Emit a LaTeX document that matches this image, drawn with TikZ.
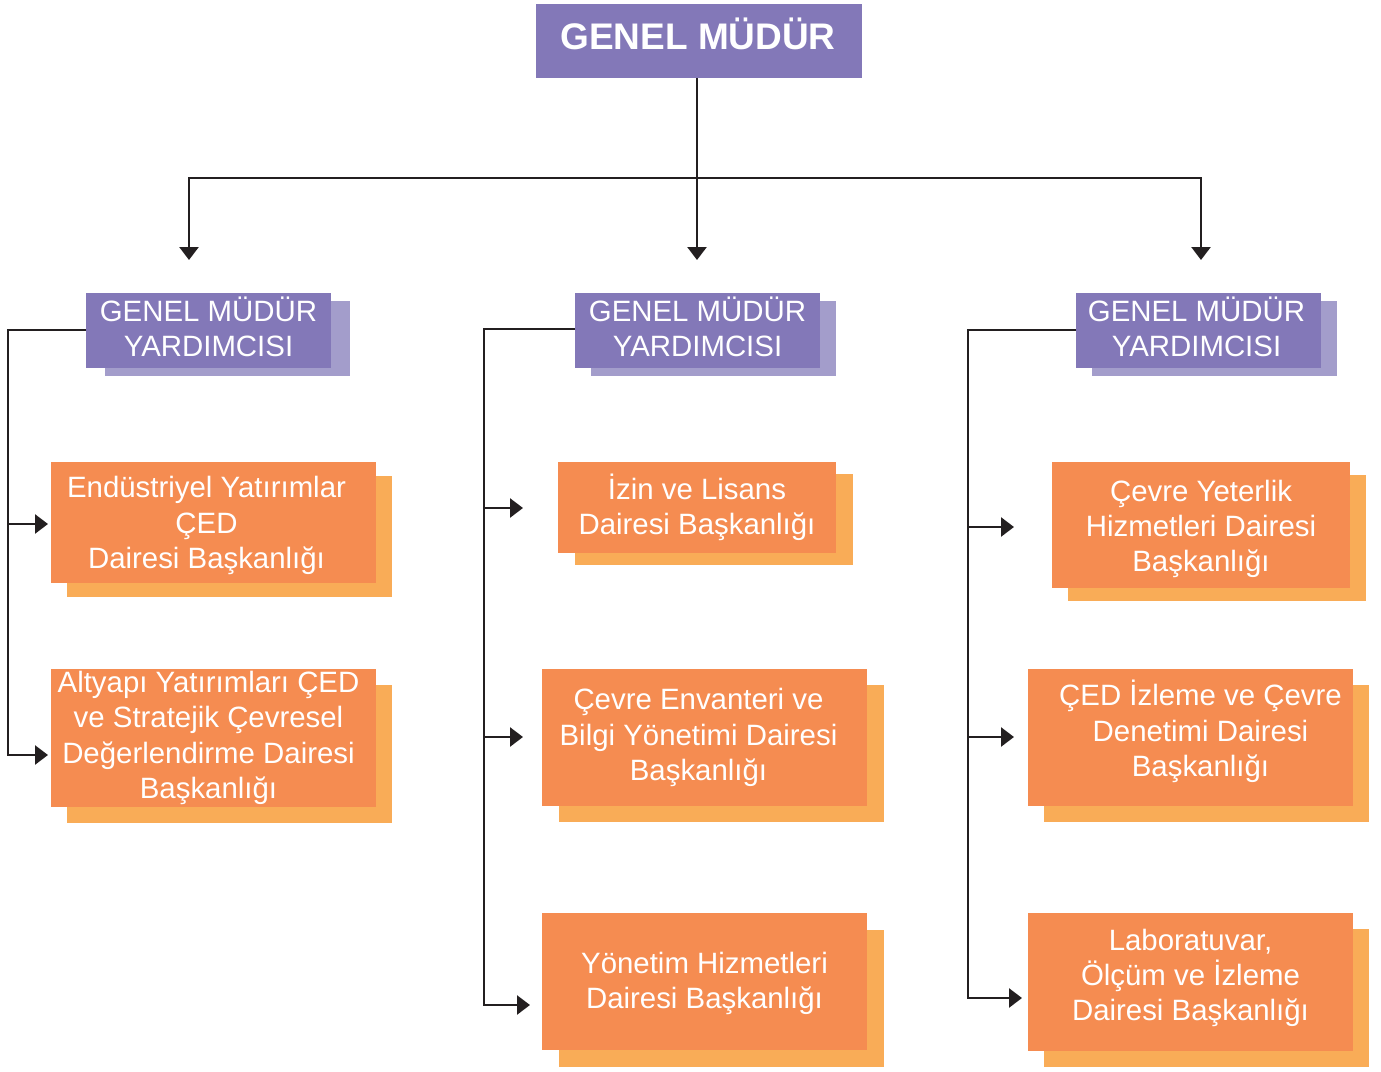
\documentclass[tikz,border=0pt]{standalone}
\usepackage{fontspec}
\setmainfont{Liberation Sans}
\usetikzlibrary{arrows.meta}
\definecolor{purp}{HTML}{8378B8}
\definecolor{purps}{HTML}{A39DCB}
\definecolor{orng}{HTML}{F58C51}
\definecolor{orngs}{HTML}{F9AC57}
\definecolor{lnc}{HTML}{231F20}
\tikzset{
  plainbox/.style={rectangle, inner sep=0pt, outer sep=0pt},
  purpbox/.style={plainbox, fill=purp},
  purpboxs/.style={plainbox, fill=purps},
  orngbox/.style={plainbox, fill=orng},
  orngboxs/.style={plainbox, fill=orngs},
  boxtext/.style={inner sep=0pt, text=white, align=center,
    font=\fontsize{29.4}{35.3}\selectfont},
  ln/.style={draw=lnc, line width=2.6pt, line join=miter},
  arr/.style={ln, -{Triangle[length=13pt,width=19pt]}},
}
% #1 name, #2 style, #3 x1, #4 y1, #5 x2, #6 y2, #7 shadow shift, #8 text shift, #9 text
\newcommand\mkbox[9]{%
  \node[#2s, minimum width={(#5-#3)*1pt}, minimum height={(#6-#4)*1pt}, #7]
    (#1s) at ({(#3+#5)/2},{(#4+#6)/2}) {};
  \node[#2, minimum width={(#5-#3)*1pt}, minimum height={(#6-#4)*1pt}]
    (#1) at ({(#3+#5)/2},{(#4+#6)/2}) {};
  \node[boxtext, #8] (#1t) at (#1.center) {#9};
}
\begin{document}
\begin{tikzpicture}[x=1pt,y=-1pt]
\useasboundingbox (0,0) rectangle (1381,1071);
% top
\node[plainbox, fill=purp, minimum width=326pt, minimum height=74pt] (gm) at (699,41) {};
\node[boxtext, font=\fontsize{37}{40}\selectfont\bfseries, shift={(-1,-7)}] (gmt) at (gm.center) {GENEL MÜDÜR};
% deputies
\mkbox{vpL}{purpbox}{86}{293}{331}{368}{shift={(19,8)}}{shift={(0,-3.5)}}{GENEL MÜDÜR\\YARDIMCISI}
\mkbox{vpM}{purpbox}{575}{293}{820}{368}{shift={(16,8)}}{shift={(0,-3.5)}}{GENEL MÜDÜR\\YARDIMCISI}
\mkbox{vpR}{purpbox}{1076}{293}{1321}{368}{shift={(16,8)}}{shift={(-2,-3.5)}}{GENEL MÜDÜR\\YARDIMCISI}
% left column
\mkbox{l1}{orngbox}{51}{462}{376}{583}{shift={(16,14)}}{shift={(-7,3)}}{Endüstriyel Yatırımlar\\ÇED\\Dairesi Başkanlığı}
\mkbox{l2}{orngbox}{51}{669}{376}{807}{shift={(16,16)}}{shift={(-5,0)}}{Altyapı Yatırımları ÇED\\ve Stratejik Çevresel\\Değerlendirme Dairesi\\Başkanlığı}
% middle column
\mkbox{m1}{orngbox}{558}{462}{836}{553}{shift={(17,12)}}{shift={(0,0)}}{İzin ve Lisans\\Dairesi Başkanlığı}
\mkbox{m2}{orngbox}{542}{669}{867}{806}{shift={(17,16)}}{shift={(-6,0)}}{Çevre Envanteri ve\\Bilgi Yönetimi Dairesi\\Başkanlığı}
\mkbox{m3}{orngbox}{542}{913}{867}{1050}{shift={(17,17)}}{shift={(0,2)}}{Yönetim Hizmetleri\\Dairesi Başkanlığı}
% right column
\mkbox{r1}{orngbox}{1052}{462}{1350}{588}{shift={(16,13)}}{shift={(0,4)}}{Çevre Yeterlik\\Hizmetleri Dairesi\\Başkanlığı}
\mkbox{r2}{orngbox}{1028}{669}{1353}{806}{shift={(16,16)}}{shift={(10,-6)}}{ÇED İzleme ve Çevre\\Denetimi Dairesi\\Başkanlığı}
\mkbox{r3}{orngbox}{1028}{913}{1353}{1051}{shift={(16,16)}}{shift={(0,-4)}}{Laboratuvar,\\Ölçüm ve İzleme\\Dairesi Başkanlığı}
% top connectors
\coordinate (bus) at (697,178);
\coordinate (tL) at (189,260);
\coordinate (tM) at (697,260);
\coordinate (tR) at (1201,260);
\draw[arr] (gm.south -| bus) -- (tM);
\draw[arr] (bus) -| (tL);
\draw[arr] (bus) -| (tR);
% left branch
\coordinate (jL) at (8,330);
\coordinate (aL1) at (48,524);
\coordinate (aL2) at (48,755);
\draw[arr] (vpL.west |- jL) -- (jL) |- (aL2);
\draw[arr] (jL |- aL1) -- (aL1);
% middle branch
\coordinate (jM) at (484,329);
\coordinate (aM1) at (523,508);
\coordinate (aM2) at (523,737);
\coordinate (aM3) at (530,1005);
\draw[arr] (vpM.west |- jM) -- (jM) |- (aM3);
\draw[arr] (jM |- aM1) -- (aM1);
\draw[arr] (jM |- aM2) -- (aM2);
% right branch
\coordinate (jR) at (968,330);
\coordinate (aR1) at (1014,527);
\coordinate (aR2) at (1014,737);
\coordinate (aR3) at (1022,998);
\draw[arr] (vpR.west |- jR) -- (jR) |- (aR3);
\draw[arr] (jR |- aR1) -- (aR1);
\draw[arr] (jR |- aR2) -- (aR2);
\end{tikzpicture}
\end{document}
